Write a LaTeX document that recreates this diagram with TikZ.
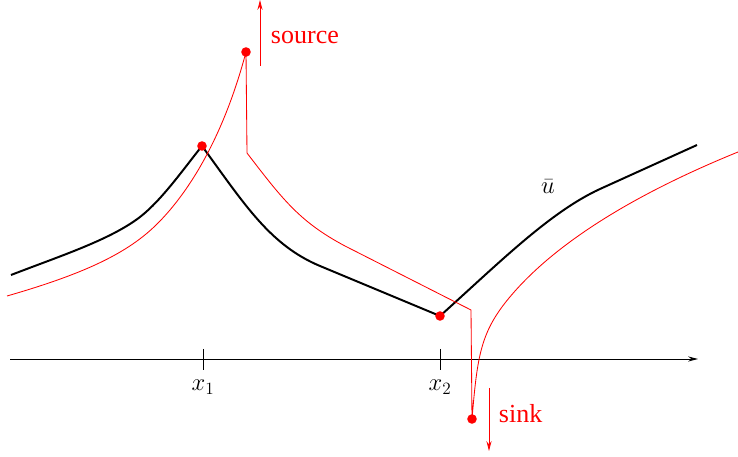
\RequirePackage{fix-cm}
\documentclass[tikz,border=0pt]{standalone}
\usepackage{fontspec}
\setmainfont{Liberation Serif}
\usetikzlibrary{arrows.meta}

\begin{document}
\begin{tikzpicture}[x=0.025cm,y=-0.025cm,>={Stealth[length=7pt,width=3.6pt]},
  dot/.style={circle,fill=red,inner sep=0pt,minimum size=6.8pt},
  flow/.style={red,line width=0.6pt},
  curve/.style={line width=1.4pt,line join=round},
  lbl/.style={red,anchor=west,font=\fontsize{18.5}{20}\selectfont},
  mlbl/.style={font=\fontsize{17.5}{20}\selectfont}]
\useasboundingbox (0,0) rectangle (738,457);
% axis with ticks
\coordinate (axl) at (10,359);
\coordinate (axr) at (698,359);
\draw[->,line width=0.7pt] (axl) -- (axr);
\foreach \xx/\nm in {203/1,440/2}{
  \draw[line width=0.6pt] (\xx,349) -- (\xx,370);
  \node[mlbl] (x\nm) at (\xx,387) {$x_\nm$};
}
% points
\coordinate (peak) at (202,146);
\coordinate (dip) at (440,316);
\coordinate (src) at (246,52);
\coordinate (snk) at (472,419);
% graph of u bar
\draw[curve] (11,275) .. controls (60,256) and (110,240) .. (140,217)
  .. controls (162,200) and (185,167) .. (peak)
  .. controls (245,205) and (270,245) .. (320,266) -- (dip)
  .. controls (500,262) and (550,212) .. (600,189) -- (697,145);
\node[mlbl] (ubar) at (548,187) {$\bar u$};
% red paths
\coordinate (bend1) at (247,153);
\coordinate (bend2) at (471,310);
\draw[flow] (7,296) .. controls (80,275) and (125,255) .. (155,226)
  .. controls (180,202) and (220,150) .. (src) -- (bend1)
  .. controls (283,200) and (300,222) .. (345,246) -- (bend2) -- (snk)
  .. controls (477,360) and (480,335) .. (505,303)
  .. controls (545,252) and (620,200) .. (738,152);
\node[dot] (dpeak) at (peak) {};
\node[dot] (ddip) at (dip) {};
\node[dot] (dsrc) at (src) {};
\node[dot] (dsnk) at (snk) {};
% source and sink
\coordinate (srcfoot) at (260,66);
\coordinate (srchead) at (260,0);
\draw[flow,->] (srcfoot) -- (srchead);
\node[lbl] (srclbl) at (266,38) {source};
\coordinate (snkfoot) at (489,388);
\coordinate (snkhead) at (489,451);
\draw[flow,->] (snkfoot) -- (snkhead);
\node[lbl] (snklbl) at (494,414) {sink};
\end{tikzpicture}
\end{document}
